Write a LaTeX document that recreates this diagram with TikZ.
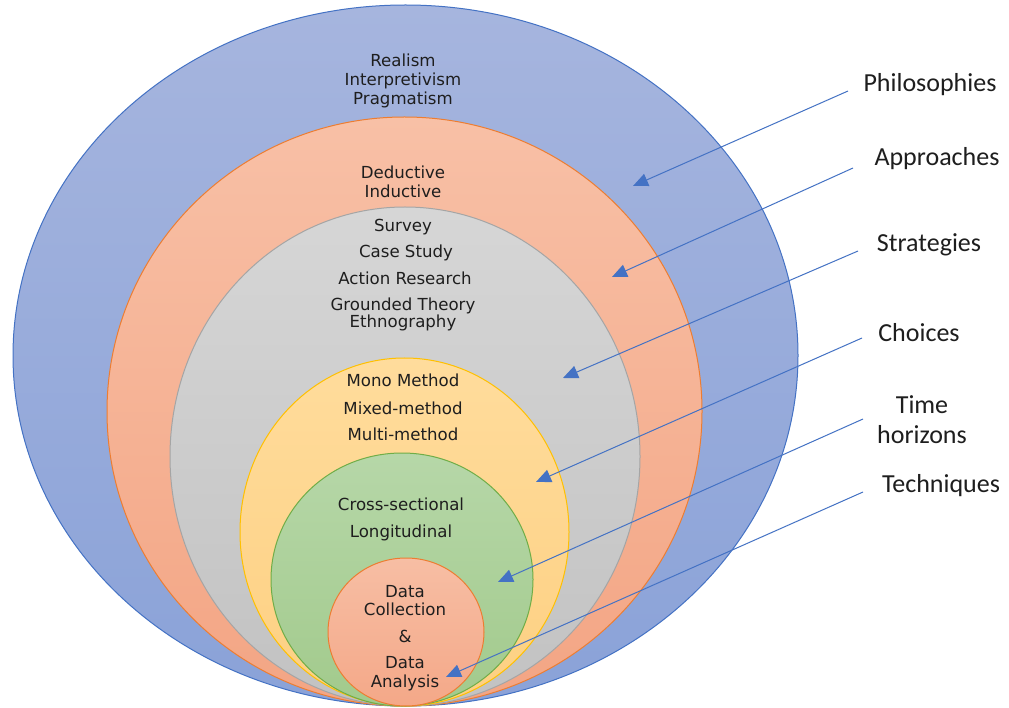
\documentclass[tikz,border=0pt]{standalone}
\usepackage{fontspec}
\setmainfont{DejaVu Sans}
\newfontfamily\labelfont{Carlito}
\usetikzlibrary{arrows.meta,shapes.geometric}

\definecolor{blueline}{HTML}{4472C4}
\definecolor{orangeline}{HTML}{ED7D31}
\definecolor{grayline}{HTML}{A5A5A5}
\definecolor{goldline}{HTML}{FFC000}
\definecolor{greenline}{HTML}{70AD47}
\definecolor{blueTop}{HTML}{A6B5DE}
\definecolor{blueBot}{HTML}{8AA2D8}
\definecolor{orangeTop}{HTML}{F8C0A6}
\definecolor{orangeBot}{HTML}{F3A584}
\definecolor{grayTop}{HTML}{D6D6D6}
\definecolor{grayBot}{HTML}{C2C2C2}
\definecolor{goldTop}{HTML}{FFDC9C}
\definecolor{goldBot}{HTML}{FDD082}
\definecolor{greenTop}{HTML}{B6D7A8}
\definecolor{greenBot}{HTML}{A2CA8C}
\definecolor{coreTop}{HTML}{F7BEA4}
\definecolor{coreBot}{HTML}{F4A888}
\definecolor{inktext}{HTML}{1E1E1E}

\begin{document}
\begin{tikzpicture}[x=1pt,y=-1pt,
  layer/.style={shape=ellipse, inner sep=0pt, line width=1pt},
  layertext/.style={anchor=base, text=inktext, inner sep=0pt,
    font=\fontsize{16.6}{19}\selectfont},
  sidelabel/.style={anchor=base, text=inktext, inner sep=0pt,
    font=\labelfont\fontsize{26}{30}\selectfont},
  pointer/.style={draw=blueline, line width=1pt,
    -{Triangle[length=15pt,width=13pt]}}]

\fill[white] (0,0) rectangle (1009,708);
\useasboundingbox (0,0) rectangle (1009,708);

% nested layers, all touching at the bottom
\node[layer, draw=blueline, top color=blueTop, bottom color=blueBot,
  minimum width=785pt, minimum height=701pt] (philo) at (405.5,355.5) {};
\node[layer, draw=orangeline, top color=orangeTop, bottom color=orangeBot,
  minimum width=595pt, minimum height=589pt] (appr) at (404.5,411.5) {};
\node[layer, draw=grayline, top color=grayTop, bottom color=grayBot,
  minimum width=470pt, minimum height=499pt] (strat) at (405,456.5) {};
\node[layer, draw=goldline, top color=goldTop, bottom color=goldBot,
  minimum width=329pt, minimum height=348pt] (choice) at (404.5,532) {};
\node[layer, draw=greenline, top color=greenTop, bottom color=greenBot,
  minimum width=262pt, minimum height=253pt] (horiz) at (402,579.5) {};
\node[layer, draw=orangeline, top color=coreTop, bottom color=coreBot,
  minimum width=156pt, minimum height=148pt] (tech) at (406,632) {};

% layer contents
\node[layertext] (t1) at (403,67) {Realism};
\node[layertext] (t2) at (403,86) {Interpretivism};
\node[layertext] (t3) at (403,105) {Pragmatism};
\node[layertext] (t4) at (403,179) {Deductive};
\node[layertext] (t5) at (403,198) {Inductive};
\node[layertext] (t6) at (403,232) {Survey};
\node[layertext] (t7) at (406,258) {Case Study};
\node[layertext] (t8) at (405,285) {Action Research};
\node[layertext] (t9) at (403,311) {Grounded Theory};
\node[layertext] (t10) at (403,328) {Ethnography};
\node[layertext] (t11) at (403,387) {Mono Method};
\node[layertext] (t12) at (403,414) {Mixed-method};
\node[layertext] (t13) at (403,440) {Multi-method};
\node[layertext] (t14) at (401,510) {Cross-sectional};
\node[layertext] (t15) at (401,537) {Longitudinal};
\node[layertext] (t16) at (405,597) {Data};
\node[layertext] (t17) at (405,615) {Collection};
\node[layertext] (t18) at (405,642) {\&};
\node[layertext] (t19) at (405,668) {Data};
\node[layertext] (t20) at (405,687) {Analysis};

% side labels
\node[sidelabel] (lPhilo) at (930,92) {Philosophies};
\node[sidelabel] (lAppr) at (937,166) {Approaches};
\node[sidelabel] (lStrat) at (929,252) {Strategies};
\node[sidelabel] (lChoice) at (919,342) {Choices};
\node[sidelabel] (lTime) at (922,413) {Time};
\node[sidelabel] (lHoriz) at (922,443) {horizons};
\node[sidelabel] (lTech) at (941,492) {Techniques};

% pointer ends
\coordinate (sPhilo) at (848,91);   \coordinate (ePhilo) at (633,186);
\coordinate (sAppr) at (853,168);   \coordinate (eAppr) at (612,277);
\coordinate (sStrat) at (858,251);  \coordinate (eStrat) at (563,378);
\coordinate (sChoice) at (862,338); \coordinate (eChoice) at (536,482);
\coordinate (sHoriz) at (863,419);  \coordinate (eHoriz) at (498,582);
\coordinate (sTech) at (863,492);   \coordinate (eTech) at (446,677);

\draw[pointer] (sPhilo) -- (ePhilo);
\draw[pointer] (sAppr) -- (eAppr);
\draw[pointer] (sStrat) -- (eStrat);
\draw[pointer] (sChoice) -- (eChoice);
\draw[pointer] (sHoriz) -- (eHoriz);
\draw[pointer] (sTech) -- (eTech);
\end{tikzpicture}
\end{document}
